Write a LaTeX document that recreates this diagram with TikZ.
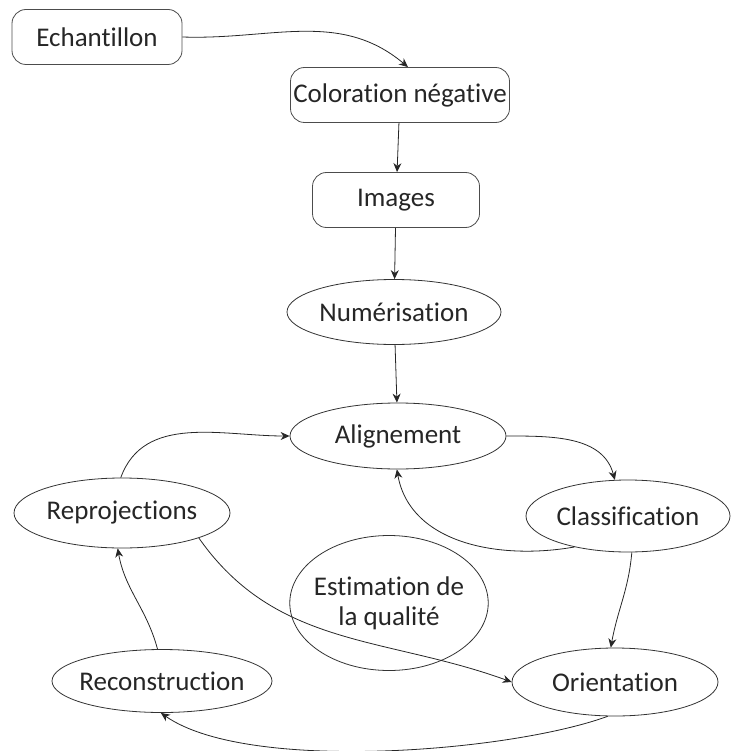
\documentclass[tikz,border=0pt]{standalone}
\usepackage{fontspec}
\setmainfont{Carlito}[Ligatures=NoCommon]
\usetikzlibrary{shapes.geometric,arrows.meta}
\begin{document}
\begin{tikzpicture}[x=1pt,y=-1pt,
	every node/.style={font=\fontsize{27}{30}\selectfont, text=black!85, inner sep=0pt},
	boite/.style={draw=black!70, rounded corners=14pt, minimum height=55pt, thick},
	bulle/.style={draw=black!80, ellipse, thick, inner sep=-5pt},
	fleche/.style={draw=black!85, thick, -{Stealth[length=9pt,width=8pt]}}]
	\useasboundingbox (0,0) rectangle (731,751);
	
	\node[boite, minimum width=170pt] (echant) at (97,37) {Echantillon};
	\node[boite, minimum width=219pt] (color) at (400,95) {Coloration négative};
	\node[boite, minimum width=167pt] (images) at (396,200) {Images};
	\node[bulle, minimum width=214pt, minimum height=65pt] (numer) at (394,312) {Numérisation};
	\node[bulle, minimum width=216pt, minimum height=66pt] (align) at (398,436) {Alignement};
	\node[bulle, minimum width=204pt, minimum height=72pt] (classif) at (628,516) {Classification};
	\node[bulle, minimum width=216pt, minimum height=70pt] (reproj) at (122,513) {Reprojections};
	\node[bulle, minimum width=197pt, minimum height=135pt, align=center] (qualite) at (389,603) {Estimation de\\la qualité};
	\node[bulle, minimum width=220pt, minimum height=63pt] (reconst) at (162,681) {Reconstruction};
	\node[bulle, minimum width=206pt, minimum height=68pt] (orient) at (615,682) {Orientation};
	
	% chaine du haut
	\draw[fleche] (echant.east) to[out=-2,in=140] ([xshift=8pt]color.north);
	\draw[fleche] (color) -- (images);
	\draw[fleche] (images) -- (numer);
	\draw[fleche] (numer) -- (align);
	
	% boucle de raffinement
	\draw[fleche] (align.east) to[out=0,in=105] (classif.110);
	\draw[fleche] (classif.210) to[out=190,in=-80] (align.268);
	\draw[fleche] (classif.276) to[out=-95,in=80] (orient.97);
	\draw[fleche] (orient.258) to[out=-160,in=-35,looseness=0.6] (reconst.268);
	\draw[fleche] (reconst.98) to[out=105,in=-80] (reproj.263);
	\draw[fleche] (reproj.92) to[out=70,in=180] (align.west);
	\draw[fleche] (reproj.-18) to[out=-55,in=160] (orient.west);
\end{tikzpicture}
\end{document}
